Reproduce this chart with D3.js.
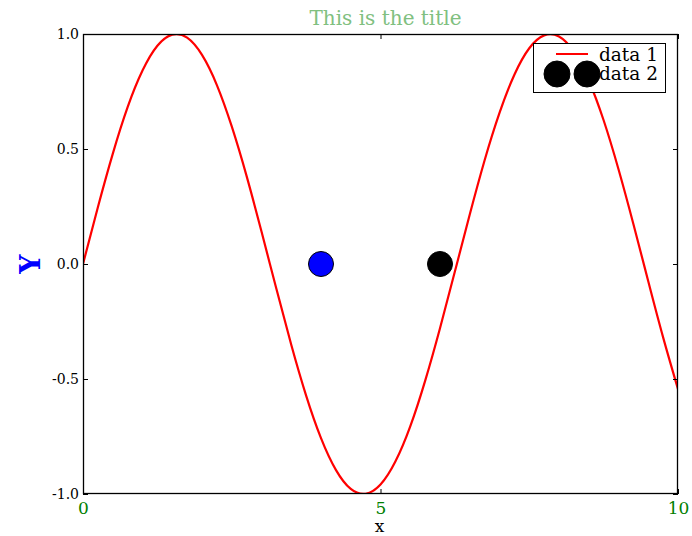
<!DOCTYPE html>
<html>
<head>
<meta charset="utf-8">
<script src="https://cdn.jsdelivr.net/npm/d3@7"></script>
<style>
  html, body { margin: 0; padding: 0; background: #fff; }
  svg { display: block; font-family: "DejaVu Serif", serif; }
</style>
</head>
<body>
<svg id="chart" width="692" height="536"></svg>
<script>
// Curve samples (data 1)
const lineX = [0, 0.25, 0.5, 0.75, 1, 1.25, 1.5, 1.75, 2, 2.25, 2.5, 2.75, 3, 3.25, 3.5, 3.75,
  4, 4.25, 4.5, 4.75, 5, 5.25, 5.5, 5.75, 6, 6.25, 6.5, 6.75, 7, 7.25, 7.5, 7.75,
  8, 8.25, 8.5, 8.75, 9, 9.25, 9.5, 9.75, 10];
const lineY = [0, 0.247, 0.479, 0.682, 0.841, 0.949, 0.997, 0.984, 0.909, 0.778, 0.598, 0.382, 0.141, -0.108, -0.351, -0.572,
  -0.757, -0.895, -0.978, -0.999, -0.959, -0.859, -0.706, -0.508, -0.279, -0.033, 0.215, 0.451, 0.657, 0.823, 0.938, 0.994,
  0.989, 0.923, 0.798, 0.625, 0.412, 0.174, -0.075, -0.319, -0.544];

// Scatter points (data 2)
const pointX = [4, 6];
const pointY = [0, 0];
const pointColors = ["#0000ff", "#000000"];

const xTicks = [0, 5, 10];
const yTicks = [-1.0, -0.5, 0.0, 0.5, 1.0];
const legendLabels = ["data 1", "data 2"];

const svg = d3.select("#chart");
const L = 83, R = 678, T = 34, B = 494;

const x = d3.scaleLinear().domain([0, 10]).range([L, R]);
const y = d3.scaleLinear().domain([-1, 1]).range([B, T]);

svg.append("defs").append("clipPath").attr("id", "plotclip")
  .append("rect").attr("x", L).attr("y", T).attr("width", R - L).attr("height", B - T);

// Sine-like curve
const line = d3.line().x((d, i) => x(lineX[i])).y(d => y(d)).curve(d3.curveNatural);
svg.append("path")
  .datum(lineY)
  .attr("clip-path", "url(#plotclip)")
  .attr("d", line)
  .attr("fill", "none")
  .attr("stroke", "#ff0000")
  .attr("stroke-width", 2.2);

// Markers
svg.selectAll("circle.pt").data(pointX).enter().append("circle")
  .attr("class", "pt")
  .attr("cx", d => x(d))
  .attr("cy", (d, i) => y(pointY[i]))
  .attr("r", 12.5)
  .attr("fill", (d, i) => pointColors[i])
  .attr("stroke", "#000")
  .attr("stroke-width", 1);

// Frame
svg.append("rect")
  .attr("x", L + 0.5).attr("y", T + 0.5)
  .attr("width", R - L - 1).attr("height", B - T - 1)
  .attr("fill", "none").attr("stroke", "#000").attr("stroke-width", 1.3);

// Inward ticks on all sides
const tickLen = 5;
const fmtY = d => d.toFixed(1);
const axisBottom = d3.axisBottom(x).tickValues(xTicks).tickSizeInner(-tickLen).tickSizeOuter(0).tickPadding(8)
  .tickFormat(d => String(d));
const gB = svg.append("g").attr("transform", `translate(0,${B})`).call(axisBottom);
gB.select(".domain").remove();
gB.selectAll("text").attr("fill", "#008000").attr("font-size", 17).attr("font-family", "DejaVu Serif").attr("dy", "0.71em");

const gT = svg.append("g").attr("transform", `translate(0,${T})`)
  .call(d3.axisTop(x).tickValues(xTicks).tickSizeInner(-tickLen).tickSizeOuter(0).tickFormat(""));
gT.select(".domain").remove();

const axisLeft = d3.axisLeft(y).tickValues(yTicks).tickSizeInner(-tickLen).tickSizeOuter(0).tickPadding(4)
  .tickFormat(fmtY);
const gL = svg.append("g").attr("transform", `translate(${L},0)`).call(axisLeft);
gL.select(".domain").remove();
gL.selectAll("text").attr("fill", "#000").attr("font-size", 14).attr("font-family", "DejaVu Serif");

const gR = svg.append("g").attr("transform", `translate(${R},0)`)
  .call(d3.axisRight(y).tickValues(yTicks).tickSizeInner(-tickLen).tickSizeOuter(0).tickFormat(""));
gR.select(".domain").remove();
svg.selectAll(".tick line").attr("stroke", "#000");

// Title and axis labels
svg.append("text").attr("x", (L + R) / 2 + 5).attr("y", 25).attr("text-anchor", "middle")
  .attr("font-size", 20).attr("fill", "#80c080").text("This is the title");
svg.append("text").attr("x", (L + R) / 2 - 1).attr("y", 532).attr("text-anchor", "middle")
  .attr("font-size", 17).attr("fill", "#000").text("x");
svg.append("text").attr("transform", `translate(40,${(T + B) / 2}) rotate(-90)`).attr("text-anchor", "middle")
  .attr("font-size", 27).attr("font-weight", "bold").attr("fill", "#0000ff").text("Y");

// Legend
const lg = svg.append("g");
lg.append("rect").attr("x", 533.5).attr("y", 43.5).attr("width", 132).attr("height", 49)
  .attr("fill", "#fff").attr("stroke", "#000").attr("stroke-width", 1);
lg.append("line").attr("x1", 556).attr("x2", 588).attr("y1", 54).attr("y2", 54)
  .attr("stroke", "#ff0000").attr("stroke-width", 2);
[557, 587].forEach(cx => {
  lg.append("circle").attr("cx", cx).attr("cy", 74).attr("r", 13).attr("fill", "#000").attr("stroke", "#000");
});
lg.selectAll("text.lg").data(legendLabels).enter().append("text")
  .attr("class", "lg").attr("x", 599).attr("y", (d, i) => 61 + i * 19)
  .attr("font-size", 18.5).attr("fill", "#000").text(d => d);
</script>
</body>
</html>
